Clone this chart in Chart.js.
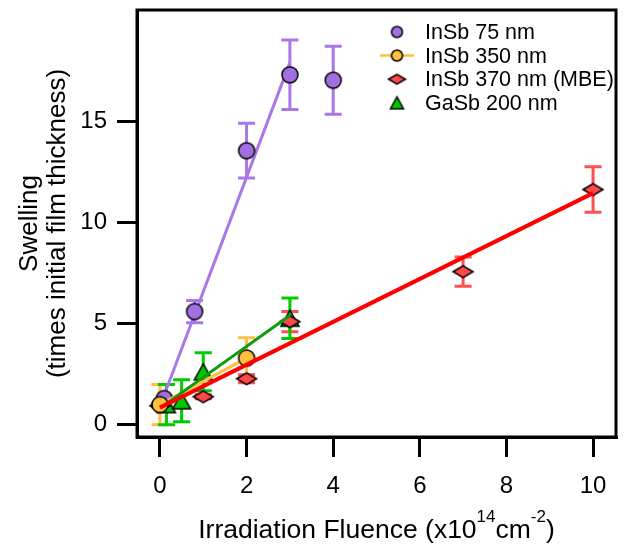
<!DOCTYPE html>
<html>
<head>
<meta charset="utf-8">
<script src="https://cdn.jsdelivr.net/npm/chart.js@4.4.1/dist/chart.umd.min.js"></script>
<style>
  html, body { margin: 0; padding: 0; background: #fff; }
  #wrap { width: 629px; height: 544px; }
</style>
</head>
<body>
<div id="wrap"><canvas id="swelling" width="629" height="544"></canvas></div>
<script>
const FONT = "'Liberation Sans', Arial, sans-serif"

// InSb 75 nm
const insb75X = [0.1, 0.8, 2, 3, 4]
const insb75Y = [1.3, 5.6, 13.55, 17.3, 17.03]
const insb75Err = [0, 0.55, 1.35, 1.72, 1.68]
const insb75FitX = [0.05, 3]
const insb75FitY = [1.2, 17.9]

// InSb 350 nm
const insb350X = [0, 2]
const insb350Y = [1.0, 3.3]
const insb350Err = [1.0, 1.0]

// InSb 370 nm (MBE)
const insb370X = [0, 1, 2, 3, 7, 10]
const insb370Y = [0.94, 1.39, 2.28, 5.1, 7.57, 11.63]
const insb370Err = [0.1, 0.1, 0.2, 0.5, 0.72, 1.13]
const insb370FitX = [0, 10]
const insb370FitY = [0.85, 11.45]

// GaSb 200 nm
const gasbX = [0.15, 0.5, 1, 3]
const gasbY = [1.0, 1.19, 2.62, 5.27]
const gasbErr = [1.0, 1.04, 0.94, 1.0]
const gasbFitX = [0.05, 3]
const gasbFitY = [0.9, 5.4]

const xTicks = [0, 2, 4, 6, 8, 10]
const yTicks = [0, 5, 10, 15]

const pts = (xs, ys) => xs.map((x, i) => ({ x: x, y: ys[i] }))

// little canvases used as point styles (flat diamond is not a built-in)
function marker(shape, fill, w, h) {
  const c = document.createElement('canvas')
  c.width = w + 4
  c.height = h + 4
  const ctx = c.getContext('2d')
  ctx.translate(c.width / 2, c.height / 2)
  ctx.beginPath()
  if (shape === 'circle') {
    ctx.arc(0, 0, w / 2, 0, Math.PI * 2)
  } else if (shape === 'diamond') {
    ctx.moveTo(-w / 2, 0); ctx.lineTo(0, -h / 2); ctx.lineTo(w / 2, 0); ctx.lineTo(0, h / 2); ctx.closePath()
  } else {
    ctx.moveTo(0, -h / 2); ctx.lineTo(w / 2, h / 2); ctx.lineTo(-w / 2, h / 2); ctx.closePath()
  }
  ctx.fillStyle = fill
  ctx.fill()
  ctx.lineWidth = 1.5
  ctx.strokeStyle = '#000'
  ctx.stroke()
  return c
}

const PURPLE = '#A070E0', PURPLE_LINE = '#A878E8'
const ORANGE = '#FFBF40', ORANGE_LINE = '#FFC040'
const RED = '#FF4848', RED_BAR = '#FF5050', RED_LINE = '#FF0000'
const GREEN = '#00C800', GREEN_BAR = '#00CC00', GREEN_LINE = '#119911'

const circPurple = marker('circle', PURPLE, 16, 16)
const circOrange = marker('circle', ORANGE, 16, 16)
const diamRed = marker('diamond', RED, 20, 12)
const triGreen = marker('triangle', GREEN, 18, 16)

const legendRows = [
  { label: 'InSb 75 nm', img: marker('circle', PURPLE, 11, 11) },
  { label: 'InSb 350 nm', img: marker('circle', ORANGE, 11, 11), line: ORANGE_LINE },
  { label: 'InSb 370 nm (MBE)', img: marker('diamond', RED, 17, 10) },
  { label: 'GaSb 200 nm', img: marker('triangle', GREEN, 13, 12) }
]

const errorBars = {
  id: 'errorBars',
  beforeDatasetsDraw(chart) {
    const ctx = chart.ctx
    const sx = chart.scales.x, sy = chart.scales.y
    chart.data.datasets.forEach(ds => {
      if (!ds.errors) return
      ctx.save()
      ctx.strokeStyle = ds.errorColor
      ctx.lineWidth = 3
      ds.data.forEach((p, j) => {
        const e = ds.errors[j]
        if (!e) return
        const px = sx.getPixelForValue(p.x)
        const top = sy.getPixelForValue(p.y + e)
        const bot = sy.getPixelForValue(p.y - e)
        ctx.beginPath()
        ctx.moveTo(px, top); ctx.lineTo(px, bot)
        ctx.moveTo(px - 8.5, top); ctx.lineTo(px + 8.5, top)
        ctx.moveTo(px - 8.5, bot); ctx.lineTo(px + 8.5, bot)
        ctx.stroke()
      })
      ctx.restore()
    })
  }
}

const frameAndText = {
  id: 'frameAndText',
  afterDraw(chart) {
    const ctx = chart.ctx
    const a = chart.chartArea
    ctx.save()
    ctx.strokeStyle = '#000'
    ctx.lineWidth = 3
    ctx.strokeRect(a.left, a.top, a.right - a.left, a.bottom - a.top)

    // x title with superscripts
    const parts = [
      ['Irradiation Fluence (x10', 26.5, 0],
      ['14', 17, -16],
      ['cm', 26.5, 0],
      ['-2', 17, -16],
      [')', 26.5, 0]
    ]
    let total = 0
    parts.forEach(p => { ctx.font = p[1] + 'px ' + FONT; total += ctx.measureText(p[0]).width })
    let x = (a.left + a.right) / 2 - total / 2
    ctx.fillStyle = '#000'
    ctx.textBaseline = 'alphabetic'
    parts.forEach(p => {
      ctx.font = p[1] + 'px ' + FONT
      ctx.fillText(p[0], x, 538 + p[2])
      x += ctx.measureText(p[0]).width
    })

    // legend
    ctx.font = '21.5px ' + FONT
    ctx.textBaseline = 'middle'
    legendRows.forEach((r, i) => {
      const y = 32 + i * 23.6
      if (r.line) {
        ctx.strokeStyle = r.line
        ctx.lineWidth = 2.5
        ctx.beginPath(); ctx.moveTo(380, y); ctx.lineTo(414, y); ctx.stroke()
      }
      ctx.drawImage(r.img, 397 - r.img.width / 2, y - r.img.height / 2)
      ctx.fillText(r.label, 425, y + 1)
    })
    ctx.restore()
  }
}

new Chart(document.getElementById('swelling'), {
  type: 'scatter',
  data: {
    datasets: [
      { label: 'InSb 75 nm', data: pts(insb75X, insb75Y), errors: insb75Err, errorColor: PURPLE_LINE,
        pointStyle: circPurple, pointRadius: 7, order: 4.5 },
      { label: 'fit InSb 370', data: pts(insb370FitX, insb370FitY), showLine: true, borderColor: RED_LINE,
        borderWidth: 4, pointRadius: 0, order: 1 },
      { label: 'fit GaSb', data: pts(gasbFitX, gasbFitY), showLine: true, borderColor: GREEN_LINE,
        borderWidth: 3, pointRadius: 0, order: 2 },
      { label: 'InSb 350 nm', data: pts(insb350X, insb350Y), errors: insb350Err, errorColor: ORANGE_LINE,
        showLine: true, borderColor: ORANGE_LINE, borderWidth: 3, pointStyle: circOrange, pointRadius: 7, order: 3 },
      { label: 'InSb 370 nm (MBE)', data: pts(insb370X, insb370Y), errors: insb370Err, errorColor: RED_BAR,
        pointStyle: diamRed, pointRadius: 7, order: 4 },
      { label: 'GaSb 200 nm', data: pts(gasbX, gasbY), errors: gasbErr, errorColor: GREEN_BAR,
        pointStyle: triGreen, pointRadius: 7, order: 5 },
      { label: 'fit InSb 75', data: pts(insb75FitX, insb75FitY), showLine: true, borderColor: PURPLE_LINE,
        borderWidth: 3, pointRadius: 0, order: 6 }
    ]
  },
  options: {
    responsive: false,
    animation: false,
    layout: { padding: { top: 10, right: 13, left: 0, bottom: 0 } },
    plugins: {
      legend: { display: false },
      tooltip: { enabled: false }
    },
    scales: {
      x: {
        type: 'linear',
        min: -0.53,
        max: 10.53,
        afterBuildTicks: s => { s.ticks = xTicks.map(v => ({ value: v })) },
        afterFit: s => { s.height = 107; s.paddingLeft = 0; s.paddingRight = 0 },
        grid: { drawOnChartArea: false, tickLength: 20, lineWidth: 3, color: '#000' },
        border: { width: 3, color: '#000' },
        ticks: { color: '#000', padding: 15, maxRotation: 0, font: { family: FONT, size: 24 } }
      },
      y: {
        type: 'linear',
        min: -0.6,
        max: 20.5,
        afterBuildTicks: s => { s.ticks = yTicks.map(v => ({ value: v })) },
        afterFit: s => { s.width = 137; s.paddingTop = 0; s.paddingBottom = 0 },
        grid: { drawOnChartArea: false, tickLength: 20, lineWidth: 3, color: '#000' },
        border: { width: 3, color: '#000' },
        ticks: { color: '#000', padding: 10, font: { family: FONT, size: 24 } },
        title: {
          display: true,
          text: ['Swelling', '(times initial film thickness)'],
          color: '#000',
          padding: { top: 16, bottom: 0 },
          font: { family: FONT, size: 26, lineHeight: 1.08 }
        }
      }
    }
  },
  plugins: [errorBars, frameAndText]
})
</script>
</body>
</html>
